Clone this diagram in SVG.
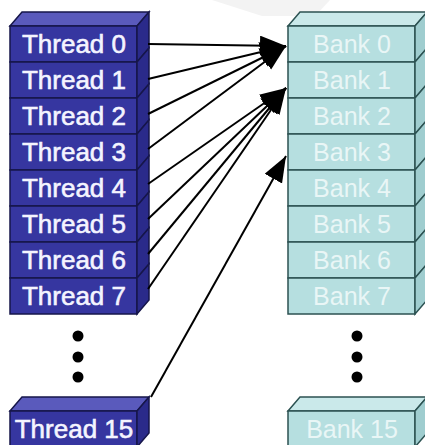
<svg xmlns="http://www.w3.org/2000/svg" width="425" height="445" viewBox="0 0 425 445">
<style>
.tf{fill:#3636a0;stroke:#16164a;stroke-width:1.5}
.tt{fill:#5a5abc;stroke:#16164a;stroke-width:1.5}
.ts{fill:#2a2a8a;stroke:#16164a;stroke-width:1.5}
.bf{fill:#b6dfe0;stroke:#2c5252;stroke-width:1.5}
.bt{fill:#cae9ea;stroke:#2c5252;stroke-width:1.5}
.bs{fill:#9fcdcf;stroke:#2c5252;stroke-width:1.5}
.tx{font-family:"Liberation Sans",Arial,sans-serif;font-size:26px;fill:#f4f4ff;stroke:#f4f4ff;stroke-width:0.6;text-anchor:middle}
.bx{font-family:"Liberation Sans",Arial,sans-serif;font-size:25px;fill:#e9f6f6;text-anchor:middle}
.ln{stroke:#000;stroke-width:2;fill:none;marker-end:url(#ah)}
</style>
<defs>
<marker id="ah" markerUnits="userSpaceOnUse" markerWidth="28" markerHeight="22" refX="26" refY="10" orient="auto">
<path d="M0,0 L26,10 L0,20 Z" fill="#000"/>
</marker>
</defs>
<rect width="425" height="445" fill="#fff"/>
<polygon points="212,0 330,0 315,16 262,16" fill="#f3f3f3"/>
<g id="threads">
<g id="thread0"><polygon class="tt" points="10,26 22,12 149,12 137,26"/><rect class="tf" x="10" y="26" width="127" height="36"/><polygon class="ts" points="137,26 149,12 149,48 137,62"/><text class="tx" x="74" y="53">Thread 0</text></g>
<g id="thread1"><rect class="tf" x="10" y="62" width="127" height="36"/><polygon class="ts" points="137,62 149,48 149,84 137,98"/><text class="tx" x="74" y="89">Thread 1</text></g>
<g id="thread2"><rect class="tf" x="10" y="98" width="127" height="36"/><polygon class="ts" points="137,98 149,84 149,120 137,134"/><text class="tx" x="74" y="125">Thread 2</text></g>
<g id="thread3"><rect class="tf" x="10" y="134" width="127" height="36"/><polygon class="ts" points="137,134 149,120 149,156 137,170"/><text class="tx" x="74" y="161">Thread 3</text></g>
<g id="thread4"><rect class="tf" x="10" y="170" width="127" height="36"/><polygon class="ts" points="137,170 149,156 149,192 137,206"/><text class="tx" x="74" y="197">Thread 4</text></g>
<g id="thread5"><rect class="tf" x="10" y="206" width="127" height="36"/><polygon class="ts" points="137,206 149,192 149,228 137,242"/><text class="tx" x="74" y="233">Thread 5</text></g>
<g id="thread6"><rect class="tf" x="10" y="242" width="127" height="36"/><polygon class="ts" points="137,242 149,228 149,264 137,278"/><text class="tx" x="74" y="269">Thread 6</text></g>
<g id="thread7"><rect class="tf" x="10" y="278" width="127" height="36"/><polygon class="ts" points="137,278 149,264 149,300 137,314"/><text class="tx" x="74" y="305">Thread 7</text></g>
<g id="thread-dots" fill="#000"><circle cx="78" cy="336" r="5.5"/><circle cx="78" cy="357" r="5.5"/><circle cx="78" cy="377" r="5.5"/></g>
<g id="thread15"><polygon class="tt" points="10,411 22,397 149,397 137,411"/><rect class="tf" x="10" y="411" width="127" height="36"/><polygon class="ts" points="137,411 149,397 149,433 137,447"/><text class="tx" x="74" y="438">Thread 15</text></g>
</g>
<g id="banks">
<g id="bank0"><polygon class="bt" points="288,26 300,12 427,12 415,26"/><rect class="bf" x="288" y="26" width="127" height="36"/><polygon class="bs" points="415,26 427,12 427,48 415,62"/><text class="bx" x="352" y="53">Bank 0</text></g>
<g id="bank1"><rect class="bf" x="288" y="62" width="127" height="36"/><polygon class="bs" points="415,62 427,48 427,84 415,98"/><text class="bx" x="352" y="89">Bank 1</text></g>
<g id="bank2"><rect class="bf" x="288" y="98" width="127" height="36"/><polygon class="bs" points="415,98 427,84 427,120 415,134"/><text class="bx" x="352" y="125">Bank 2</text></g>
<g id="bank3"><rect class="bf" x="288" y="134" width="127" height="36"/><polygon class="bs" points="415,134 427,120 427,156 415,170"/><text class="bx" x="352" y="161">Bank 3</text></g>
<g id="bank4"><rect class="bf" x="288" y="170" width="127" height="36"/><polygon class="bs" points="415,170 427,156 427,192 415,206"/><text class="bx" x="352" y="197">Bank 4</text></g>
<g id="bank5"><rect class="bf" x="288" y="206" width="127" height="36"/><polygon class="bs" points="415,206 427,192 427,228 415,242"/><text class="bx" x="352" y="233">Bank 5</text></g>
<g id="bank6"><rect class="bf" x="288" y="242" width="127" height="36"/><polygon class="bs" points="415,242 427,228 427,264 415,278"/><text class="bx" x="352" y="269">Bank 6</text></g>
<g id="bank7"><rect class="bf" x="288" y="278" width="127" height="36"/><polygon class="bs" points="415,278 427,264 427,300 415,314"/><text class="bx" x="352" y="305">Bank 7</text></g>
<g id="bank-dots" fill="#000"><circle cx="357" cy="336" r="5.5"/><circle cx="357" cy="357" r="5.5"/><circle cx="357" cy="377" r="5.5"/></g>
<g id="bank15"><polygon class="bt" points="288,411 300,397 427,397 415,411"/><rect class="bf" x="288" y="411" width="127" height="36"/><polygon class="bs" points="415,411 427,397 427,433 415,447"/><text class="bx" x="352" y="438">Bank 15</text></g>
</g>
<g id="connectors">
<line class="ln" x1="148" y1="44" x2="286" y2="46"/>
<line class="ln" x1="148" y1="79" x2="286" y2="46"/>
<line class="ln" x1="148" y1="114" x2="286" y2="46"/>
<line class="ln" x1="148" y1="149" x2="286" y2="46"/>
<line class="ln" x1="148" y1="184" x2="286" y2="88"/>
<line class="ln" x1="148" y1="219" x2="286" y2="88"/>
<line class="ln" x1="148" y1="254" x2="286" y2="88"/>
<line class="ln" x1="148" y1="289" x2="286" y2="88"/>
<line class="ln" x1="151" y1="397" x2="286" y2="156"/>
</g>
</svg>
